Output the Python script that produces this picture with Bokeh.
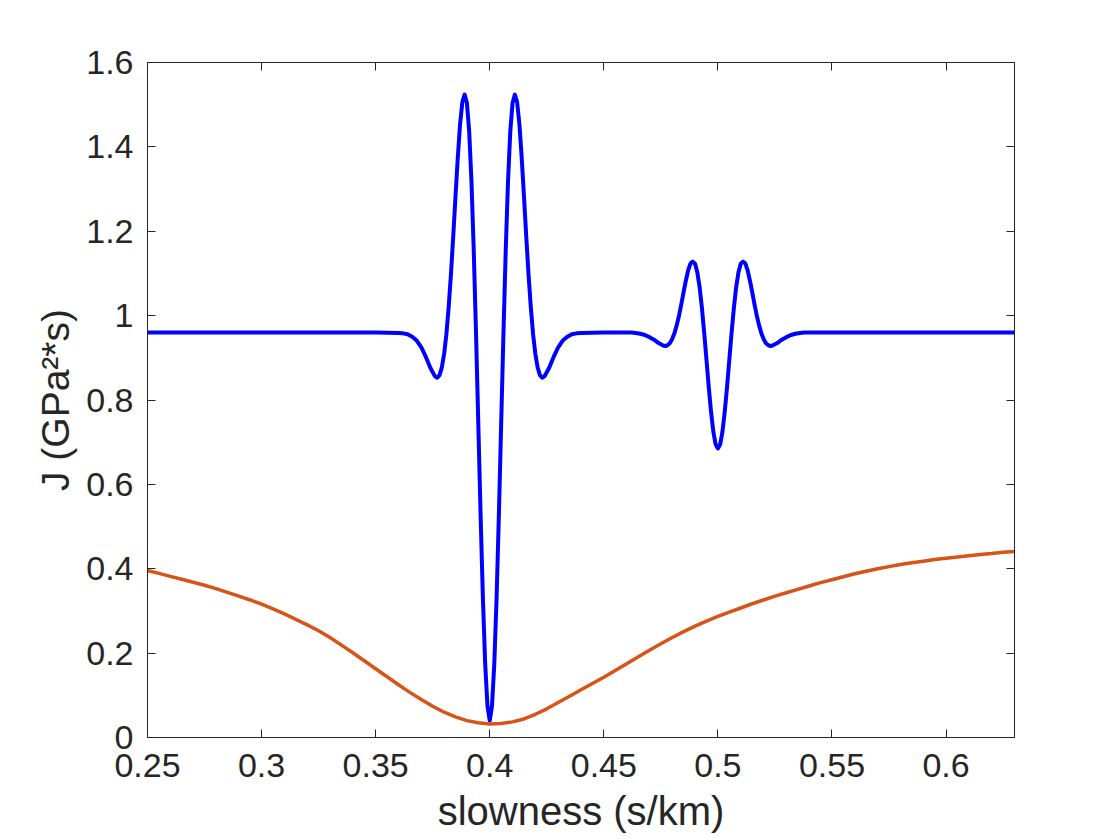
from bokeh.plotting import figure
from bokeh.models import Range1d, LinearAxis, FixedTicker, CustomJSTickFormatter
from bokeh.embed import file_html
from bokeh.resources import INLINE

# ---- data ----
x_ticks = [0.25, 0.3, 0.35, 0.4, 0.45, 0.5, 0.55, 0.6]
y_ticks = [0, 0.2, 0.4, 0.6, 0.8, 1.0, 1.2, 1.4, 1.6]

blue_x = [
    0.25, 0.30, 0.35,
    0.360, 0.362, 0.364, 0.366, 0.368, 0.370, 0.372, 0.374, 0.376,
    0.377, 0.378, 0.379, 0.380, 0.381, 0.382, 0.383, 0.384, 0.385, 0.386,
    0.387, 0.388, 0.389, 0.390, 0.391, 0.392, 0.393, 0.394, 0.395, 0.396,
    0.397, 0.398, 0.399, 0.400,
    0.401, 0.402, 0.403, 0.404, 0.405, 0.406, 0.407, 0.408, 0.409, 0.410,
    0.411, 0.412, 0.413, 0.414, 0.415, 0.416, 0.417, 0.418, 0.419, 0.420,
    0.421, 0.422, 0.423,
    0.424, 0.426, 0.428, 0.430, 0.432, 0.434, 0.436, 0.438, 0.440,
    0.45,
    0.460, 0.462, 0.464, 0.466, 0.468, 0.470, 0.472, 0.474, 0.476,
    0.477, 0.478, 0.479, 0.480, 0.481, 0.482, 0.483, 0.484, 0.485, 0.486,
    0.487, 0.488, 0.489, 0.490, 0.491, 0.492, 0.493, 0.494, 0.495, 0.496,
    0.497, 0.498, 0.499, 0.500,
    0.501, 0.502, 0.503, 0.504, 0.505, 0.506, 0.507, 0.508, 0.509, 0.510,
    0.511, 0.512, 0.513, 0.514, 0.515, 0.516, 0.517, 0.518, 0.519, 0.520,
    0.521, 0.522, 0.523,
    0.524, 0.526, 0.528, 0.530, 0.532, 0.534, 0.536, 0.538, 0.540,
    0.55, 0.60, 0.63,
]
blue_y = [
    0.960, 0.960, 0.960,
    0.959, 0.958, 0.956, 0.950, 0.941, 0.925, 0.902, 0.876, 0.856,
    0.853, 0.859, 0.877, 0.909, 0.956, 1.020, 1.098, 1.188, 1.283, 1.375,
    1.454, 1.506, 1.524, 1.504, 1.436, 1.317, 1.153, 0.956, 0.741, 0.526,
    0.331, 0.175, 0.075, 0.040,
    0.075, 0.175, 0.331, 0.526, 0.741, 0.956, 1.153, 1.317, 1.436, 1.504,
    1.524, 1.506, 1.454, 1.375, 1.283, 1.188, 1.098, 1.020, 0.956, 0.909,
    0.877, 0.859, 0.853,
    0.856, 0.876, 0.902, 0.925, 0.941, 0.950, 0.956, 0.958, 0.959,
    0.960,
    0.960, 0.960, 0.959, 0.957, 0.954, 0.949, 0.943, 0.935, 0.929,
    0.928, 0.930, 0.935, 0.945, 0.959, 0.978, 1.001, 1.028, 1.057, 1.084,
    1.108, 1.124, 1.128, 1.123, 1.102, 1.067, 1.018, 0.959, 0.895, 0.830,
    0.772, 0.725, 0.695, 0.685,
    0.695, 0.725, 0.772, 0.830, 0.895, 0.959, 1.018, 1.067, 1.102, 1.123,
    1.128, 1.124, 1.108, 1.084, 1.057, 1.028, 1.001, 0.978, 0.959, 0.945,
    0.935, 0.930, 0.928,
    0.929, 0.935, 0.943, 0.949, 0.954, 0.957, 0.959, 0.960, 0.960,
    0.960, 0.960, 0.960,
]

orange_x = [0.250, 0.255, 0.260, 0.265, 0.270, 0.275, 0.280, 0.285, 0.290, 0.295,
            0.300, 0.305, 0.310, 0.315, 0.320, 0.325, 0.330, 0.335, 0.340, 0.345,
            0.350, 0.355, 0.360, 0.365, 0.370, 0.375, 0.380, 0.385, 0.390, 0.395,
            0.400, 0.405, 0.410, 0.415, 0.420, 0.425, 0.430, 0.435, 0.440, 0.445,
            0.450, 0.455, 0.460, 0.465, 0.470, 0.475, 0.480, 0.485, 0.490, 0.495,
            0.500, 0.505, 0.510, 0.515, 0.520, 0.525, 0.530, 0.535, 0.540, 0.545,
            0.550, 0.555, 0.560, 0.565, 0.570, 0.575, 0.580, 0.585, 0.590, 0.595,
            0.600, 0.605, 0.610, 0.615, 0.620, 0.625, 0.630]
orange_y = [0.396, 0.389, 0.382, 0.375, 0.368, 0.361, 0.353, 0.344, 0.335, 0.326,
            0.316, 0.305, 0.293, 0.280, 0.267, 0.253, 0.237, 0.219, 0.201, 0.182,
            0.163, 0.144, 0.125, 0.107, 0.090, 0.074, 0.060, 0.049, 0.040, 0.035,
            0.032, 0.033, 0.037, 0.044, 0.055, 0.068, 0.083, 0.098, 0.113, 0.128,
            0.143, 0.159, 0.175, 0.191, 0.207, 0.222, 0.237, 0.251, 0.264, 0.276,
            0.287, 0.297, 0.307, 0.317, 0.326, 0.335, 0.343, 0.351, 0.359, 0.367,
            0.374, 0.381, 0.388, 0.394, 0.400, 0.405, 0.410, 0.414, 0.418, 0.422,
            0.425, 0.428, 0.431, 0.434, 0.436, 0.439, 0.441]

x_label = "slowness (s/km)"
y_label = "J (GPa\u00b2*s)"

FONT = "Liberation Sans"
INK = "#262626"

p = figure(width=1112, height=840,
           x_range=Range1d(0.25, 0.63), y_range=Range1d(0, 1.6),
           output_backend="svg", toolbar_location=None,
           min_border_left=147, min_border_right=98,
           min_border_top=62, min_border_bottom=103,
           x_axis_location=None, y_axis_location=None)
p.xgrid.visible = False
p.ygrid.visible = False
p.outline_line_color = INK
p.outline_line_width = 1
p.background_fill_color = "white"
p.border_fill_color = "white"

fmt_code = "return String(parseFloat(tick.toFixed(6)));"


def style(ax):
    ax.axis_line_color = INK
    ax.axis_line_width = 1
    ax.major_tick_line_color = INK
    ax.major_tick_line_width = 1
    ax.major_tick_in = 8
    ax.major_tick_out = 0
    ax.minor_tick_line_color = None
    ax.major_label_text_font = FONT
    ax.major_label_text_color = INK
    ax.major_label_text_font_size = "34px"
    ax.axis_label_text_font = FONT
    ax.axis_label_text_color = INK
    ax.axis_label_text_font_style = "normal"
    ax.axis_label_text_font_size = "39px"


xb = LinearAxis(ticker=FixedTicker(ticks=x_ticks),
                formatter=CustomJSTickFormatter(code=fmt_code),
                axis_label=x_label)
style(xb)
xb.axis_label_text_font_size = "40px"
xb.major_label_standoff = 16
xb.axis_label_standoff = 9
p.add_layout(xb, "below")

yl = LinearAxis(ticker=FixedTicker(ticks=y_ticks),
                formatter=CustomJSTickFormatter(code=fmt_code),
                axis_label=y_label)
style(yl)
yl.major_label_standoff = 14
yl.axis_label_standoff = 6
p.add_layout(yl, "left")

xt = LinearAxis(ticker=FixedTicker(ticks=x_ticks),
                formatter=CustomJSTickFormatter(code="return '';"))
style(xt)
xt.major_label_text_font_size = "0px"
xt.major_label_standoff = 0
p.add_layout(xt, "above")

yr = LinearAxis(ticker=FixedTicker(ticks=y_ticks),
                formatter=CustomJSTickFormatter(code="return '';"))
style(yr)
yr.major_label_text_font_size = "0px"
yr.major_label_standoff = 0
p.add_layout(yr, "right")

p.line(blue_x, blue_y, line_color="#0000FF", line_width=4,
       line_join="round", line_cap="round")
p.line(orange_x, orange_y, line_color="#D95319", line_width=3.5,
       line_join="round", line_cap="round")

open("out.html", "w").write(file_html(p, INLINE))
